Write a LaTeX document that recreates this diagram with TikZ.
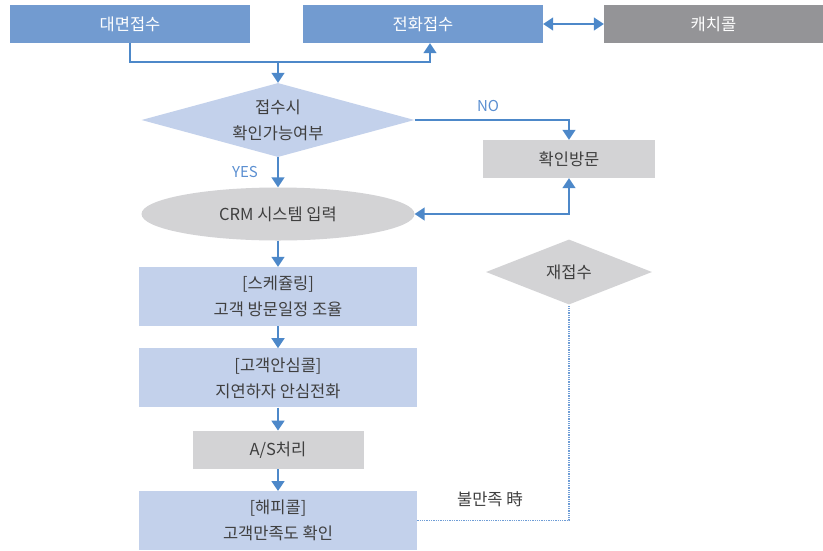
\documentclass[tikz,border=0pt]{standalone}
\usepackage{fontspec}
\setmainfont{Noto Sans CJK KR}
\usetikzlibrary{shapes.geometric, arrows.meta, positioning, calc}
\definecolor{midblue}{HTML}{729BD0}
\definecolor{paleblue}{HTML}{C3D1EB}
\definecolor{softgray}{HTML}{D3D3D5}
\definecolor{darkgray}{HTML}{949497}
\definecolor{linkblue}{HTML}{4D88C9}
\definecolor{labelblue}{HTML}{5B8FD1}
\definecolor{dotblue}{HTML}{6F9DD6}
\definecolor{textgray}{HTML}{3F3F3F}

\begin{document}
\begin{tikzpicture}[
    x=1pt, y=-1pt,
    >={Triangle[width=13pt,length=10pt]},
    txt/.style={font=\fontsize{16.5}{26}\selectfont, text=textgray, align=center, inner sep=0pt},
    entry/.style={txt, fill=midblue, text=white, minimum width=240pt, minimum height=38pt},
    stage/.style={txt, fill=paleblue, minimum width=278pt, minimum height=59pt},
    graybox/.style={txt, fill=softgray, minimum height=38pt},
    check/.style={txt, diamond, fill=paleblue},
    flow/.style={->, linkblue, line width=1.6pt},
    tag/.style={font=\fontsize{15}{17}\selectfont, text=labelblue, inner sep=0pt}
  ]
    \useasboundingbox (0,0) rectangle (823,550);

    % Intake
    \node[entry] (face) at (130,24) {대면접수};
    \node[entry] (phone) at (423,24) {전화접수};
    \node[entry, fill=darkgray, minimum width=219pt] (catch) at (713.5,24) {캐치콜};
    \coordinate (merge) at (278,62);
    \coordinate (phonein) at ([xshift=7pt]phone.south);

    % Main flow
    \node[check, aspect=3.7, minimum width=273pt, minimum height=74pt] (intake) at (278,120) {접수시\\확인가능여부};
    \node[txt, ellipse, fill=softgray, minimum width=273pt, minimum height=53pt] (crm) at (278,214) {CRM 시스템 입력};
    \node[stage] (schedule) at (278,296.5) {[스케쥴링]\\고객 방문일정 조율};
    \node[stage, below=22pt of schedule] (care) {[고객안심콜]\\지연하자 안심전화};
    \node[graybox, minimum width=171pt, below=23pt of care] (service) {A/S처리};
    \node[stage, below=22pt of service] (happy) {[해피콜]\\고객만족도 확인};

    % Side branch
    \node[graybox, minimum width=172pt] (visit) at (569,159) {확인방문};
    \node[check, fill=softgray, aspect=2.55, minimum width=166pt, minimum height=65pt] (recall) at (569,272) {재접수};

    % Connectors
    \draw[<->, linkblue, line width=1.6pt] (phone.east) -- (catch.west);
    \draw[flow] (face.south) |- (phonein |- merge) -- (phonein);
    \draw[flow] (merge) -- (intake.north);
    \draw[flow] (intake.east) -| (visit.north);
    \node[tag] at (488,106) {NO};
    \draw[flow] (intake.south) -- (crm.north);
    \node[tag] at (245,172) {YES};
    \draw[<->, linkblue, line width=1.6pt] (crm.east) -| (visit.south);
    \draw[flow] (crm.south) -- (schedule.north);
    \draw[flow] (schedule.south) -- (care.north);
    \draw[flow] (care.south) -- (service.north);
    \draw[flow] (service.south) -- (happy.north);
    \draw[dotblue, line width=1.3pt, densely dotted] (happy.east) -| (recall.south);
    \node[txt] at (490,499) {불만족 時};
  \end{tikzpicture}
\end{document}
